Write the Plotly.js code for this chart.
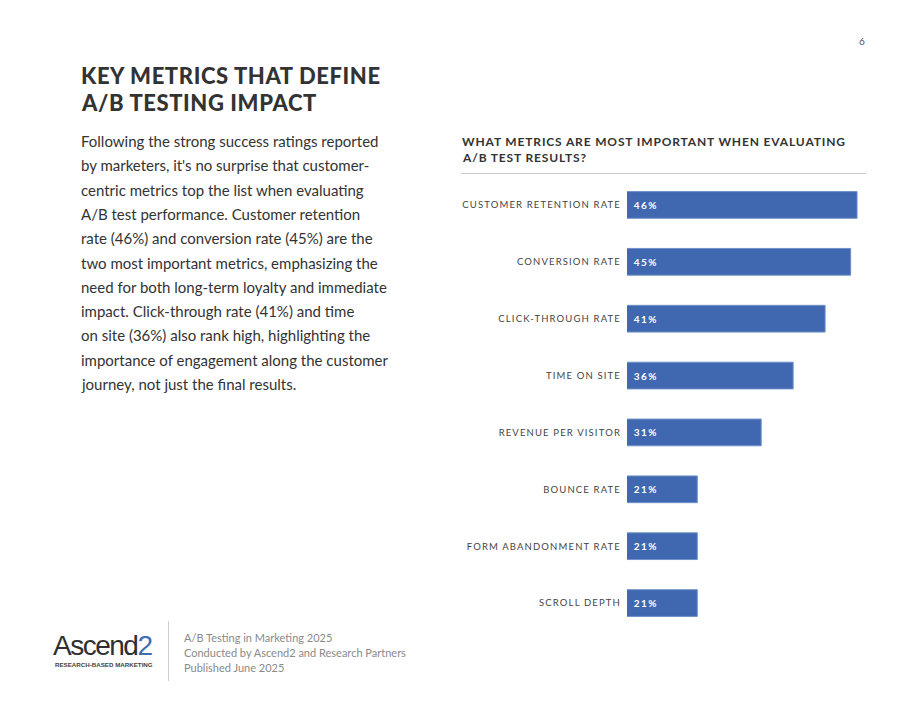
<!DOCTYPE html>
<html><head><meta charset="utf-8">
<script src="https://cdn.plot.ly/plotly-3.0.1.min.js"></script>
<style>
html,body{margin:0;padding:0;background:#fff;}
#chart{width:920px;height:711px;}
.ytick text{letter-spacing:1.15px;}
</style></head><body><div id="chart"></div>
<script>
// ---- data ----
const categories = ["CUSTOMER RETENTION RATE","CONVERSION RATE","CLICK-THROUGH RATE","TIME ON SITE","REVENUE PER VISITOR","BOUNCE RATE","FORM ABANDONMENT RATE","SCROLL DEPTH"];
const values = [46,45,41,36,31,21,21,21];
const valueLabels = ["46%","45%","41%","36%","31%","21%","21%","21%"];

const pageTitle = ["KEY METRICS THAT DEFINE","A/B TESTING IMPACT"];
const chartTitle = ["WHAT METRICS ARE MOST IMPORTANT WHEN EVALUATING","A/B TEST RESULTS?"];
const bodyLines = [
 "Following the strong success ratings reported",
 "by marketers, it's no surprise that customer-",
 "centric metrics top the list when evaluating",
 "A/B test performance. Customer retention",
 "rate (46%) and conversion rate (45%) are the",
 "two most important metrics, emphasizing the",
 "need for both long-term loyalty and immediate",
 "impact. Click-through rate (41%) and time",
 "on site (36%) also rank high, highlighting the",
 "importance of engagement along the customer",
 "journey, not just the final results."
];
const footerLines = ["A/B Testing in Marketing 2025","Conducted by Ascend2 and Research Partners","Published June 2025"];
const pageNumber = "6";

// ---- helpers ----
const W = 920, H = 711;
const px = x => x / W, py = y => 1 - y / H;
const FONT = "Lato, 'Noto Sans', sans-serif";
const BLUE = "#4068b0";
const DARK = "#333333";

const ann = [];
const spacing = {}; // index -> letter-spacing
function addText(text, x, y, opts, ls) {
  const a = Object.assign({text: text, xref:"paper", yref:"paper", x: px(x), y: py(y),
    xanchor:"left", yanchor:"middle", showarrow:false, align:"left", borderpad:0}, opts);
  if (ls !== undefined) spacing[ann.length] = ls;
  ann.push(a);
}

pageTitle.forEach((t,i) => addText(t, 80, 75 + i*28, {font:{family:FONT, size:22, color:DARK, weight:900}}, 0.6));
bodyLines.forEach((t,i) => addText(t, 80, 141 + i*24.3, {font:{family:FONT, size:15, color:DARK}}));
chartTitle.forEach((t,i) => addText(t, 461, 141 + i*16.5, {font:{family:FONT, size:12, color:DARK, weight:700}}, 0.85));
footerLines.forEach((t,i) => addText(t, 183, 637 + i*15, {font:{family:FONT, size:11, color:"#8a8a8a"}}));
addText(pageNumber, 862, 41, {font:{family:FONT, size:10, color:"#4a4f66"}, xanchor:"center"});
addText("Ascend<span style='color:#3f6cb4'>2</span>", 52, 645, {font:{family:"'Liberation Sans', Arial, sans-serif", size:28, color:"#2f2f2f"}}, -1.5);
addText("RESEARCH-BASED MARKETING", 54, 664, {font:{family:"'Liberation Sans', Arial, sans-serif", size:6.2, color:"#444", weight:700}}, 0);

// value labels inside bars, positioned through the axis scales
categories.forEach((c,i) => {
  spacing[ann.length] = 1.5;
  ann.push({text: valueLabels[i], xref:"x", yref:"y", x: 10, y: c, xanchor:"left", yanchor:"middle",
    xshift: 8, showarrow:false, borderpad:0, font:{family:FONT, size:10, color:"#ffffff", weight:700}});
});

const trace = {
  type:"bar", orientation:"h", y: categories, x: values,
  marker:{color: BLUE, line:{color:"#6f90c8", width:1}},
  hoverinfo:"skip", width: 0.47
};

const layout = {
  width: W, height: H, margin:{l:0,r:0,t:0,b:0},
  paper_bgcolor:"#ffffff", plot_bgcolor:"#ffffff",
  showlegend:false,
  xaxis:{domain:[px(627), px(866)], range:[10,47.4], visible:false, fixedrange:true},
  yaxis:{domain:[py(631.5), py(176.5)], autorange:"reversed", ticks:"", showline:false, showgrid:false,
    zeroline:false, ticklabelstandoff: 5, tickfont:{family:FONT, size:9.5, color:"#444444", weight:400}, fixedrange:true},
  annotations: ann,
  shapes:[
    {type:"line", xref:"paper", yref:"paper", x0:px(461), x1:px(866), y0:py(173.5), y1:py(173.5), line:{color:"#cccccc", width:1.2}},
    {type:"line", xref:"paper", yref:"paper", x0:px(168.5), x1:px(168.5), y0:py(621), y1:py(681), line:{color:"#cfcfcf", width:1}}
  ]
};

Plotly.newPlot("chart", [trace], layout, {displayModeBar:false, staticPlot:true}).then(gd => {
  Object.keys(spacing).forEach(k => {
    gd.querySelectorAll('.annotation[data-index="' + k + '"] text').forEach(t => t.style.letterSpacing = spacing[k] + "px");
  });
});
</script></body></html>
